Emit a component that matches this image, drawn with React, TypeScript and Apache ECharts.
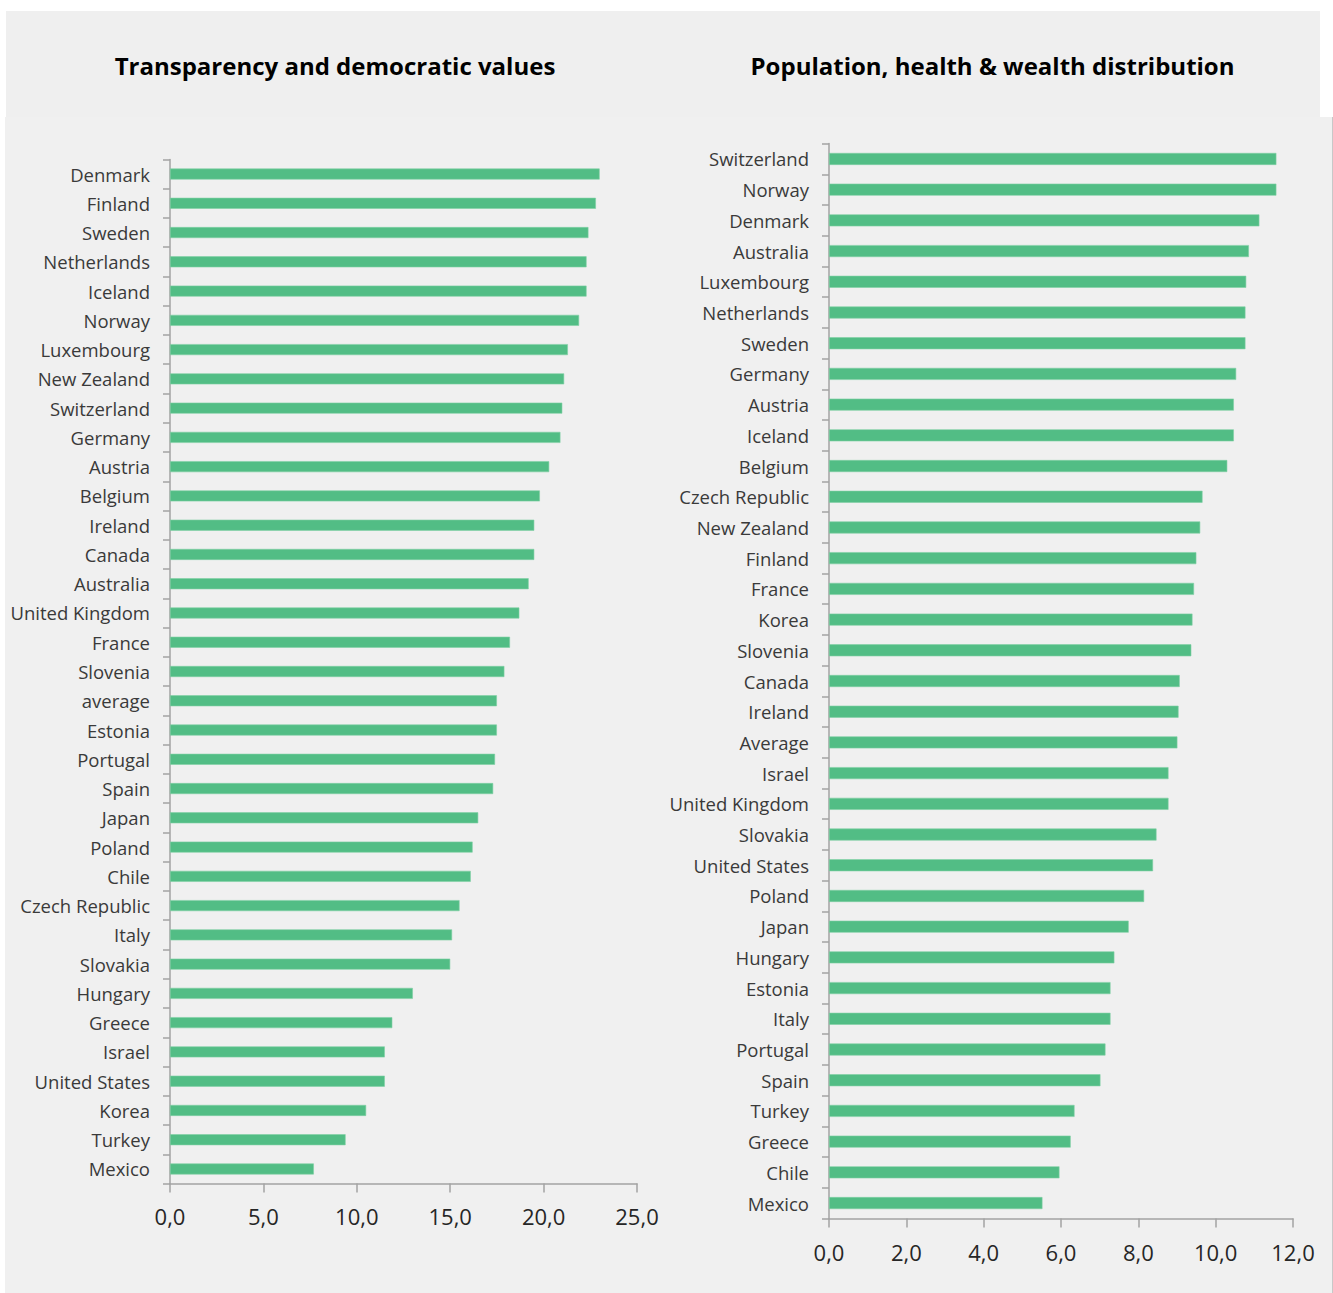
import React, { useEffect, useRef } from "react";
import * as echarts from "echarts";

const leftTitle = "Transparency and democratic values";
const rightTitle = "Population, health & wealth distribution";

const leftCategories = [
  "Denmark", "Finland", "Sweden", "Netherlands", "Iceland", "Norway", "Luxembourg",
  "New Zealand", "Switzerland", "Germany", "Austria", "Belgium", "Ireland", "Canada",
  "Australia", "United Kingdom", "France", "Slovenia", "average", "Estonia", "Portugal",
  "Spain", "Japan", "Poland", "Chile", "Czech Republic", "Italy", "Slovakia", "Hungary",
  "Greece", "Israel", "United States", "Korea", "Turkey", "Mexico",
];
const leftValues = [
  23.0, 22.8, 22.4, 22.3, 22.3, 21.9, 21.3,
  21.1, 21.0, 20.9, 20.3, 19.8, 19.5, 19.5,
  19.2, 18.7, 18.2, 17.9, 17.5, 17.5, 17.4,
  17.3, 16.5, 16.2, 16.1, 15.5, 15.1, 15.0, 13.0,
  11.9, 11.5, 11.5, 10.5, 9.4, 7.7,
];

const rightCategories = [
  "Switzerland", "Norway", "Denmark", "Australia", "Luxembourg", "Netherlands", "Sweden",
  "Germany", "Austria", "Iceland", "Belgium", "Czech Republic", "New Zealand", "Finland",
  "France", "Korea", "Slovenia", "Canada", "Ireland", "Average", "Israel", "United Kingdom",
  "Slovakia", "United States", "Poland", "Japan", "Hungary", "Estonia", "Italy", "Portugal",
  "Spain", "Turkey", "Greece", "Chile", "Mexico",
];
const rightValues = [
  11.57, 11.57, 11.13, 10.86, 10.79, 10.77, 10.77,
  10.53, 10.47, 10.47, 10.3, 9.66, 9.6, 9.5,
  9.44, 9.4, 9.37, 9.07, 9.04, 9.01, 8.78, 8.78,
  8.47, 8.38, 8.15, 7.75, 7.38, 7.28, 7.28, 7.15,
  7.02, 6.35, 6.25, 5.96, 5.52,
];

const leftAxis = { min: 0, max: 25, interval: 5 };
const rightAxis = { min: 0, max: 12, interval: 2 };

const BAR = "#52bd85";
const AXIS = "#a3a3a3";
const FONT = "'Open Sans', 'Noto Sans', sans-serif";

function buildOption(
  title: string,
  titleX: number,
  cats: string[],
  vals: number[],
  ax: { min: number; max: number; interval: number },
  grid: { left: number; right: number; top: number; bottom: number },
  barWidth: number,
  xLabelMargin: number
) {
  return {
    animation: false,
    backgroundColor: "transparent",
    textStyle: { fontFamily: FONT },
    graphic: [
      {
        type: "text",
        x: titleX,
        y: 65,
        style: {
          text: title,
          align: "center",
          verticalAlign: "middle",
          fontFamily: FONT,
          fontWeight: "bold",
          fontSize: 24,
          fill: "#000000",
        },
      },
    ],
    grid: { ...grid, containLabel: false, outerBoundsMode: "none" },
    xAxis: {
      type: "value",
      min: ax.min,
      max: ax.max,
      interval: ax.interval,
      splitLine: { show: false },
      axisLine: { show: true, lineStyle: { color: AXIS, width: 1.5 } },
      axisTick: { show: true, length: 9, lineStyle: { color: AXIS, width: 1.5 } },
      axisLabel: {
        margin: xLabelMargin,
        fontFamily: FONT,
        fontSize: 22,
        color: "#262626",
        formatter: (v: number) => v.toFixed(1).replace(".", ","),
      },
    },
    yAxis: {
      type: "category",
      data: cats,
      inverse: true,
      axisLine: { show: true, lineStyle: { color: AXIS, width: 1.5 } },
      axisTick: { show: true, length: 7, alignWithLabel: false, lineStyle: { color: AXIS, width: 1.5 } },
      axisLabel: {
        margin: 20,
        fontFamily: FONT,
        fontSize: 18.5,
        color: "#3a3a3a",
        interval: 0,
      },
    },
    series: [
      {
        type: "bar",
        data: vals,
        barWidth,
        itemStyle: { color: BAR, borderColor: "#7fd0a5", borderWidth: 0.6 },
      },
    ],
  };
}

function Chart({ option, style }: { option: any; style: React.CSSProperties }) {
  const ref = useRef<HTMLDivElement>(null);
  useEffect(() => {
    if (!ref.current) return;
    const chart = echarts.init(ref.current, undefined, { renderer: "svg" });
    chart.setOption(option);
    return () => chart.dispose();
  }, [option]);
  return <div ref={ref} style={style} />;
}

const LX = 660;
const leftOption = buildOption(
  leftTitle, 335, leftCategories, leftValues, leftAxis,
  { left: 170, right: LX - 637, top: 159.4, bottom: 1293 - 1183.6 }, 11, 21
);
const RX = 660;
const rightOption = buildOption(
  rightTitle, 992.5 - RX, rightCategories, rightValues, rightAxis,
  { left: 829 - RX, right: 1333 - 1293, top: 143.6, bottom: 1293 - 1218.4 }, 12, 23
);

export default function App() {
  return (
    <div
      style={{
        position: "absolute",
        left: 0,
        top: 0,
        width: 1333,
        height: 1293,
        background: "#ffffff",
        overflow: "hidden",
      }}
    >
      <div style={{ position: "absolute", left: 6, top: 11, width: 1314, height: 120, background: "#efefef" }} />
      <div style={{ position: "absolute", left: 5, top: 117, width: 1328, height: 1176, background: "#f0f0f0" }} />
      <div style={{ position: "absolute", left: 1332, top: 117, width: 1, height: 1176, background: "#c8c8c8" }} />
      <Chart option={leftOption} style={{ position: "absolute", left: 0, top: 0, width: LX, height: 1293 }} />
      <Chart option={rightOption} style={{ position: "absolute", left: RX, top: 0, width: 1333 - RX, height: 1293 }} />
    </div>
  );
}
